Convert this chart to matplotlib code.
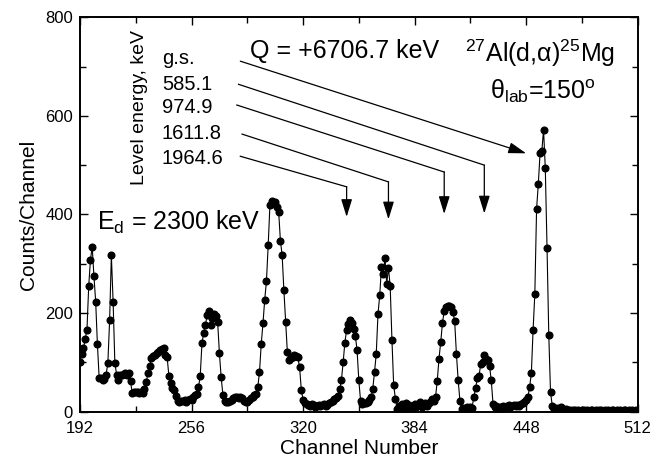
import matplotlib
matplotlib.use("Agg")
import matplotlib.pyplot as plt
from matplotlib.ticker import MultipleLocator

plt.rcParams["font.family"] = ["Liberation Sans", "DejaVu Sans"]
plt.rcParams["mathtext.fontset"] = "custom"
plt.rcParams["mathtext.rm"] = "Liberation Sans"
plt.rcParams["mathtext.it"] = "Liberation Sans:italic"
plt.rcParams["mathtext.bf"] = "Liberation Sans:bold"

# spectrum, one value per channel (192..511)
channels = list(range(192, 512))
counts = [
    101, 116, 128, 148, 166, 254, 308, 334, 275, 223,   # 192
    136, 68, 68, 63, 66, 75, 99, 185, 317, 223,         # 202
    99, 75, 63, 75, 75, 76, 78, 74, 78, 61,             # 212
    37, 40, 40, 40, 38, 40, 37, 45, 59, 78,             # 222
    92, 109, 113, 115, 118, 120, 124, 127, 129, 115,    # 232
    110, 73, 58, 48, 43, 31, 22, 19, 21, 22,            # 242
    24, 20, 23, 25, 23, 29, 33, 36, 49, 73,             # 252
    139, 160, 176, 196, 203, 176, 190, 198, 193, 181,   # 262
    118, 70, 34, 22, 19, 20, 22, 24, 27, 29,            # 272
    30, 28, 30, 27, 22, 19, 20, 24, 28, 30,             # 282
    33, 36, 49, 80, 137, 179, 227, 265, 338, 420,       # 292
    428, 423, 425, 415, 405, 347, 317, 246, 181, 120,   # 302
    104, 108, 110, 114, 112, 110, 90, 44, 24, 18,       # 312
    15, 14, 12, 15, 13, 10, 12, 14, 11, 13,             # 322
    15, 12, 14, 17, 19, 22, 25, 28, 32, 45,             # 332
    63, 100, 140, 166, 178, 185, 180, 168, 154, 124,    # 342
    63, 22, 16, 18, 17, 19, 24, 29, 46, 80,             # 352
    117, 198, 236, 294, 280, 312, 259, 292, 254, 146,   # 362
    53, 26, 5, 12, 8, 15, 6, 18, 10, 14,                # 372
    8, 12, 16, 9, 13, 19, 10, 14, 18, 12,               # 382
    17, 20, 26, 22, 29, 62, 107, 141, 180, 204,         # 392
    212, 215, 214, 212, 202, 183, 117, 64, 22, 5,       # 402
    8, 5, 9, 6, 10, 8, 30, 47, 68, 73,                  # 412
    97, 100, 114, 107, 104, 93, 63, 16, 9, 12,          # 422
    6, 10, 8, 12, 9, 11, 13, 10, 12, 14,                # 432
    11, 13, 12, 15, 18, 19, 24, 30, 49, 78,             # 442
    166, 239, 411, 462, 524, 528, 572, 494, 332, 156,   # 452
    39, 12, 6, 8, 5, 7, 9, 6, 4, 5,                     # 462
    3, 4, 2, 3, 4, 2, 3, 2, 4, 3,                       # 472
    2, 3, 2, 4, 3, 2, 3, 2, 3, 4,                       # 482
    2, 3, 2, 3, 2, 4, 3, 2, 3, 2,                       # 492
    3, 2, 4, 3, 2, 3, 2, 3, 2, 3,                       # 502
]

# excited levels of 25Mg and where their arrows point (channel, counts)
level_labels = ["g.s.", "585.1", "974.9", "1611.8", "1964.6"]
label_y = [706, 653, 605, 554, 502]
line_start_x = [284, 283, 282, 285, 284]
line_start_y = [711, 664, 622, 563, 518]
corner_x = [448, 424, 401, 369, 345]
corner_y = [524, 500, 486, 466, 456]
tip_y = [524, 402, 401, 390, 395]

fig = plt.figure(figsize=(6.53, 4.68), dpi=100)
ax = fig.add_axes([0.1225, 0.1207, 0.854, 0.8423])

ax.plot(channels, counts, color="black", linewidth=0.8,
        marker="o", markersize=4.8, markerfacecolor="black",
        markeredgecolor="black")

ax.set_xlim(192, 512)
ax.set_ylim(0, 800)
ax.xaxis.set_major_locator(MultipleLocator(64))
ax.xaxis.set_minor_locator(MultipleLocator(32))
ax.yaxis.set_major_locator(MultipleLocator(200))
ax.yaxis.set_minor_locator(MultipleLocator(100))
ax.tick_params(which="both", direction="in", top=True, right=True,
               width=1.0, labelsize=12, pad=5)
ax.tick_params(axis="x", which="both", pad=7)
ax.tick_params(which="major", length=6)
ax.tick_params(which="minor", length=4)
for sp in ax.spines.values():
    sp.set_linewidth(1.4)

ax.set_xlabel("Channel Number", fontsize=15, labelpad=2)
ax.set_ylabel("Counts/Channel", fontsize=15, labelpad=5)

# level energy list and arrows
ax.text(226, 617, "Level energy, keV", rotation=90, fontsize=14,
        ha="center", va="center")
for i, lab in enumerate(level_labels):
    ax.text(239, label_y[i], lab, fontsize=14.5, ha="left", va="baseline")
    arrow = dict(arrowstyle="-|>,head_length=0.9,head_width=0.28",
                 color="black", lw=0.9, shrinkA=0, shrinkB=0,
                 mutation_scale=12)
    if i == 0:
        ax.annotate("", xy=(corner_x[i], corner_y[i]),
                    xytext=(line_start_x[i], line_start_y[i]),
                    arrowprops=arrow)
    else:
        ax.plot([line_start_x[i], corner_x[i]], [line_start_y[i], corner_y[i]],
                color="black", linewidth=0.9)
        ax.annotate("", xy=(corner_x[i], tip_y[i]),
                    xytext=(corner_x[i], corner_y[i]), arrowprops=arrow)

ax.text(289.6, 717, "Q = +6706.7 keV", fontsize=18, ha="left", va="baseline")
ax.text(413, 710, r"$^{27}$Al(d,α)$^{25}$Mg", fontsize=18,
        ha="left", va="baseline")
ax.text(427.4, 635, r"θ$_{\mathrm{lab}}$=150$^{\mathrm{o}}$", fontsize=18,
        ha="left", va="baseline")
ax.text(201.6, 368, r"E$_{\mathrm{d}}$ = 2300 keV", fontsize=18,
        ha="left", va="baseline")

fig.savefig("out.png", dpi=100)
